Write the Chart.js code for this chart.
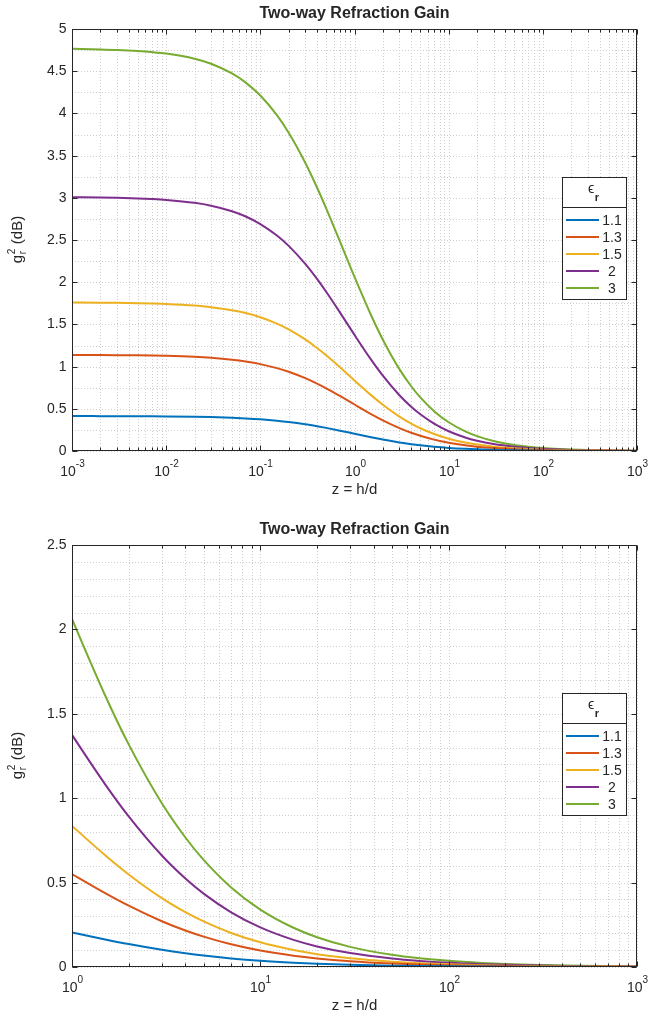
<!DOCTYPE html>
<html>
<head>
<meta charset="utf-8">
<script src="https://cdn.jsdelivr.net/npm/chart.js@4.4.0/dist/chart.umd.min.js"></script>
<style>
  html, body { margin: 0; padding: 0; background: #fff; }
  canvas { display: block; }
</style>
</head>
<body>
<canvas id="topChart" width="661" height="516"></canvas>
<canvas id="bottomChart" width="661" height="503"></canvas>
<script>
// z = h/d sample points
const zValues = [0.001, 0.002, 0.003, 0.005, 0.007, 0.01, 0.02, 0.03, 0.05, 0.07,
  0.1, 0.15, 0.2, 0.3, 0.4, 0.5, 0.7, 1, 1.5, 2, 3, 4, 5, 7,
  10, 15, 20, 30, 50, 70, 100, 150, 200, 300, 500, 700, 1000];

// two-way refraction gain in dB, one array per eps_r
const gain11 = [0.4135, 0.4131, 0.4127, 0.4118, 0.4110, 0.4097, 0.4056, 0.4016, 0.3938, 0.3863,
  0.3755, 0.3588, 0.3436, 0.3167, 0.2937, 0.2738, 0.2411, 0.2045, 0.1632, 0.1358, 0.1017, 0.0812, 0.0676, 0.0507,
  0.0368, 0.0253, 0.0193, 0.0131, 0.0079, 0.0057, 0.0040, 0.0027, 0.0020, 0.0013, 0.0008, 0.0006, 0.0004];
const gain13 = [1.1382, 1.1370, 1.1358, 1.1334, 1.1310, 1.1274, 1.1156, 1.1041, 1.0816, 1.0601,
  1.0295, 0.9820, 0.9388, 0.8629, 0.7983, 0.7428, 0.6520, 0.5510, 0.4380, 0.3635, 0.2712, 0.2162, 0.1798, 0.1345,
  0.0976, 0.0670, 0.0510, 0.0345, 0.0210, 0.0151, 0.0106, 0.0071, 0.0053, 0.0036, 0.0021, 0.0015, 0.0011];
const gain15 = [1.7589, 1.7570, 1.7551, 1.7512, 1.7473, 1.7416, 1.7227, 1.7042, 1.6684, 1.6341,
  1.5852, 1.5099, 1.4415, 1.3217, 1.2203, 1.1334, 0.9921, 0.8359, 0.6621, 0.5482, 0.4079, 0.3248, 0.2698, 0.2015,
  0.1461, 0.1002, 0.0762, 0.0516, 0.0313, 0.0225, 0.0158, 0.0106, 0.0079, 0.0053, 0.0032, 0.0023, 0.0016];
const gain2 = [3.0067, 3.0031, 2.9995, 2.9924, 2.9853, 2.9747, 2.9400, 2.9061, 2.8406, 2.7780,
  2.6892, 2.5532, 2.4304, 2.2173, 2.0387, 1.8869, 1.6424, 1.3754, 1.0823, 0.8923, 0.6605, 0.5243, 0.4347, 0.3240,
  0.2344, 0.1605, 0.1220, 0.0825, 0.0500, 0.0359, 0.0252, 0.0169, 0.0127, 0.0085, 0.0051, 0.0036, 0.0025];
const gain3 = [4.7650, 4.7585, 4.7523, 4.7396, 4.7271, 4.7085, 4.6474, 4.5880, 4.4736, 4.3649,
  4.2116, 3.9791, 3.7713, 3.4154, 3.1216, 2.8747, 2.4828, 2.0620, 1.6086, 1.3190, 0.9700, 0.7673, 0.6345, 0.4715,
  0.3403, 0.2325, 0.1766, 0.1192, 0.0723, 0.0519, 0.0364, 0.0244, 0.0183, 0.0122, 0.0073, 0.0052, 0.0037];

const epsLabels = ['1.1', '1.3', '1.5', '2', '3'];
const gainSeries = [gain11, gain13, gain15, gain2, gain3];
const lineColors = ['#0072BD', '#D95319', '#EDB120', '#7E2F8E', '#77AC30'];

const titleText = 'Two-way Refraction Gain';
const xAxisLabel = 'z = h/d';

const FONT = 'Liberation Sans, Arial, Helvetica, sans-serif';
const TXT = '#262626';

function isPow10(v) {
  const l = Math.log10(v);
  return Math.abs(l - Math.round(l)) < 1e-9;
}

// grid, box, inward ticks, labels and legend drawn matlab-style
const matlabAxes = {
  id: 'matlabAxes',
  beforeDatasetsDraw(chart) {
    const {ctx, chartArea: a, scales: {x, y}} = chart;
    ctx.save();
    ctx.strokeStyle = '#cfcfcf';
    ctx.lineWidth = 1;
    ctx.setLineDash([1, 2]);
    x.ticks.forEach(t => {
      const px = Math.round(x.getPixelForValue(t.value)) + 0.5;
      ctx.beginPath(); ctx.moveTo(px, a.top); ctx.lineTo(px, a.bottom); ctx.stroke();
    });
    y.ticks.forEach(t => {
      const py = Math.round(y.getPixelForValue(t.value)) + 0.5;
      ctx.beginPath(); ctx.moveTo(a.left, py); ctx.lineTo(a.right, py); ctx.stroke();
    });
    ctx.restore();
  },
  afterDraw(chart, args, opts) {
    const {ctx, chartArea: a, scales: {x, y}} = chart;
    const L = Math.round(a.left) + 0.5, R = Math.round(a.right) - 0.5;
    const T = Math.round(a.top) + 0.5, B = Math.round(a.bottom) - 0.5;
    ctx.save();
    ctx.strokeStyle = TXT;
    ctx.fillStyle = TXT;
    ctx.lineWidth = 1;

    // box
    ctx.strokeRect(L, T, R - L, B - T);

    // x ticks (inward, top and bottom) + labels
    x.ticks.forEach(t => {
      const px = Math.round(x.getPixelForValue(t.value)) + 0.5;
      const len = isPow10(t.value) ? 5 : 3;
      ctx.beginPath();
      ctx.moveTo(px, B); ctx.lineTo(px, B - len);
      ctx.moveTo(px, T); ctx.lineTo(px, T + len);
      ctx.stroke();
      if (isPow10(t.value)) {
        const ex = String(Math.round(Math.log10(t.value)));
        ctx.font = '14px ' + FONT;
        const w1 = ctx.measureText('10').width;
        ctx.font = '10px ' + FONT;
        const w2 = ctx.measureText(ex).width;
        const x0 = px - (w1 + w2) / 2;
        ctx.textAlign = 'left';
        ctx.textBaseline = 'alphabetic';
        ctx.font = '14px ' + FONT;
        ctx.fillText('10', x0, 476);
        ctx.font = '10px ' + FONT;
        ctx.fillText(ex, x0 + w1, 467);
      }
    });

    // y ticks (major only) + labels
    y.ticks.forEach(t => {
      const v = t.value / opts.yMajor;
      if (Math.abs(v - Math.round(v)) > 1e-6) return;
      const py = Math.round(y.getPixelForValue(t.value)) + 0.5;
      ctx.beginPath();
      ctx.moveTo(L, py); ctx.lineTo(L + 5, py);
      ctx.moveTo(R, py); ctx.lineTo(R - 5, py);
      ctx.stroke();
      ctx.font = '14px ' + FONT;
      ctx.textAlign = 'right';
      ctx.textBaseline = 'middle';
      const val = Math.round(t.value * 100) / 100;
      ctx.fillText(String(val), L - 6, py);
    });

    const cx = (a.left + a.right) / 2;

    // title
    ctx.font = 'bold 16px ' + FONT;
    ctx.textAlign = 'center';
    ctx.textBaseline = 'alphabetic';
    ctx.fillText(titleText, cx, 18);

    // x axis label
    ctx.font = '15px ' + FONT;
    ctx.fillText(xAxisLabel, cx, 494);

    // y axis label g_r^2 (dB)
    ctx.save();
    ctx.translate(22, (a.top + a.bottom) / 2);
    ctx.rotate(-Math.PI / 2);
    ctx.font = '15px ' + FONT;
    const wg = ctx.measureText('g').width;
    const wu = ctx.measureText(' (dB)').width;
    ctx.font = '10px ' + FONT;
    const ws = Math.max(ctx.measureText('2').width, ctx.measureText('r').width);
    let sx = -(wg + ws + wu) / 2;
    ctx.textAlign = 'left';
    ctx.font = '15px ' + FONT;
    ctx.fillText('g', sx, 0);
    ctx.font = '10px ' + FONT;
    ctx.fillText('2', sx + wg + 0.5, -7);
    ctx.fillText('r', sx + wg + 0.5, 4);
    ctx.font = '15px ' + FONT;
    ctx.fillText(' (dB)', sx + wg + ws + 1, 0);
    ctx.restore();

    // legend
    const lg = opts.legend;
    ctx.fillStyle = '#fff';
    ctx.fillRect(lg.x, lg.y, lg.w, lg.h);
    ctx.strokeStyle = TXT;
    ctx.strokeRect(lg.x + 0.5, lg.y + 0.5, lg.w, lg.h);
    ctx.beginPath();
    ctx.moveTo(lg.x + 0.5, lg.y + 30.5); ctx.lineTo(lg.x + lg.w + 0.5, lg.y + 30.5);
    ctx.stroke();
    ctx.fillStyle = TXT;
    ctx.textAlign = 'center';
    ctx.textBaseline = 'alphabetic';
    ctx.font = '14px ' + FONT;
    ctx.fillText('\u03F5', lg.x + lg.w / 2 - 3, lg.y + 16);
    ctx.font = 'bold 11px ' + FONT;
    ctx.fillText('r', lg.x + lg.w / 2 + 3, lg.y + 24);
    chart.data.datasets.forEach((ds, i) => {
      const ly = lg.y + 43 + i * 17;
      ctx.strokeStyle = ds.borderColor;
      ctx.lineWidth = 2;
      ctx.beginPath();
      ctx.moveTo(lg.x + 4, ly); ctx.lineTo(lg.x + 37, ly);
      ctx.stroke();
      ctx.fillStyle = TXT;
      ctx.font = '14px ' + FONT;
      ctx.textAlign = 'center';
      ctx.textBaseline = 'middle';
      ctx.fillText(ds.label, lg.x + 50, ly + 1);
    });
    ctx.restore();
  }
};

function buildDatasets() {
  return gainSeries.map((g, i) => ({
    label: epsLabels[i],
    data: zValues.map((z, j) => ({x: z, y: g[j]})),
    borderColor: lineColors[i],
    backgroundColor: lineColors[i],
    borderWidth: 2,
    pointRadius: 0,
    fill: false,
    cubicInterpolationMode: 'monotone'
  }));
}

function makeChart(id, xMin, xMax, yMax, yStep, padBottom) {
  return new Chart(document.getElementById(id), {
    type: 'line',
    data: {datasets: buildDatasets()},
    options: {
      responsive: false,
      animation: false,
      devicePixelRatio: 1,
      layout: {padding: {left: 72, right: 24, top: 29, bottom: padBottom}},
      plugins: {
        legend: {display: false},
        title: {display: false},
        tooltip: {enabled: false},
        matlabAxes: {yMajor: 0.5, legend: {x: 562, y: 177, w: 64, h: 122}}
      },
      scales: {
        x: {
          type: 'logarithmic', min: xMin, max: xMax,
          ticks: {display: false},
          grid: {display: false, drawTicks: false},
          border: {display: false},
          afterBuildTicks(scale) {
            const ticks = [];
            const e0 = Math.round(Math.log10(xMin)), e1 = Math.round(Math.log10(xMax));
            for (let e = e0; e < e1; e++) {
              for (let s = 1; s <= 9; s++) ticks.push({value: s * Math.pow(10, e)});
            }
            ticks.push({value: xMax});
            scale.ticks = ticks;
          }
        },
        y: {
          type: 'linear', min: 0, max: yMax,
          ticks: {display: false, stepSize: yStep},
          grid: {display: false, drawTicks: false},
          border: {display: false}
        }
      }
    },
    plugins: [matlabAxes]
  });
}

makeChart('topChart', 0.001, 1000, 5, 0.25, 65);
makeChart('bottomChart', 1, 1000, 2.5, 0.1, 52);
</script>
</body>
</html>
